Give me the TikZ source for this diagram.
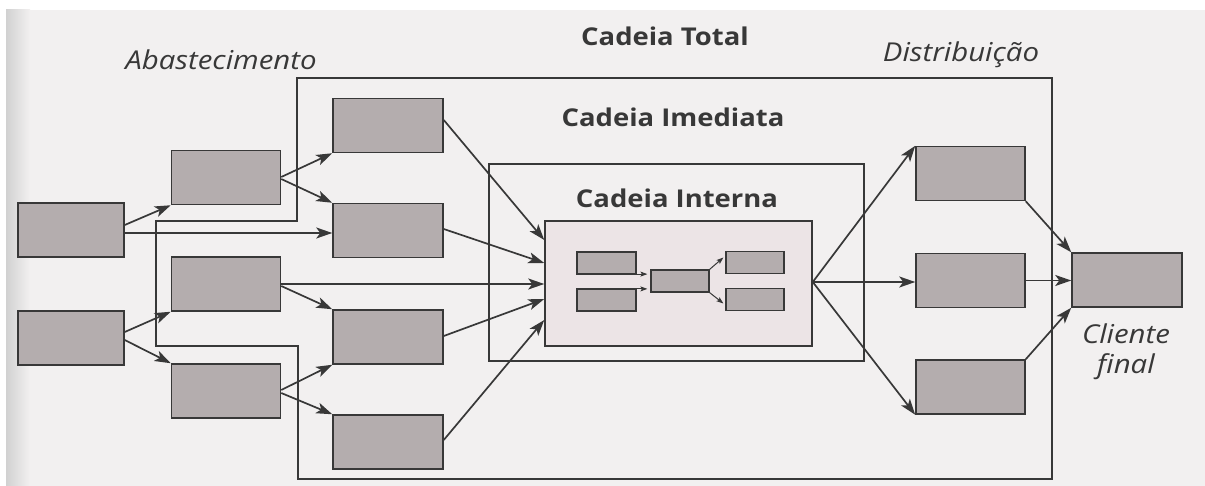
\documentclass[tikz,border=0pt]{standalone}
\usepackage{fontspec}
\setmainfont{Open Sans}
\usetikzlibrary{arrows.meta,calc}
\definecolor{paper}{HTML}{F2F0F0}
\definecolor{boxgray}{HTML}{B4ADAE}
\definecolor{pinkfill}{HTML}{ECE4E6}
\definecolor{ink}{HTML}{383838}
\newcommand\hsb[1]{\scalebox{1.12}[1]{#1}}
\newcommand\hsi[1]{\scalebox{1.13}[1]{#1}}
\begin{document}
\begin{tikzpicture}[x=1pt,y=-1pt,
  box/.style={draw=ink, fill=boxgray, line width=1.5pt, inner sep=0pt, minimum width=109pt, minimum height=54pt},
  sbox/.style={draw=ink, fill=boxgray, line width=1.2pt, inner sep=0pt, minimum width=58pt, minimum height=22pt},
  frame/.style={draw=ink, line width=1.5pt, inner sep=0pt},
  arr/.style={draw=ink, line width=1.7pt, -{Stealth[length=16pt,width=11pt,inset=4pt]}},
  sarr/.style={draw=ink, line width=1pt, -{Stealth[length=7pt,width=5pt,inset=1.5pt]}},
  title/.style={font=\bfseries\fontsize{24.5}{28}\selectfont, text=ink, inner sep=0pt},
  ital/.style={font=\itshape\fontsize{26}{30}\selectfont, text=ink, align=center, inner sep=0pt}]
\useasboundingbox (0,0) rectangle (1205,486);
\fill[white] (0,0) rectangle (1205,486);
\fill[paper] (6,10) rectangle (1205,486);
\shade[left color=black!18, right color=paper] (6,10) rectangle (30,486);

% Cadeia Total outline
\draw[ink, line width=1.5pt] (297,78) -- (1052,78) -- (1052,479) -- (298,479) -- (298,346) -- (156,346) -- (156,221) -- (297,221) -- cycle;

% Cadeia Imediata and Interna
\node[frame, minimum width=375pt, minimum height=197pt] (IM) at (676.5,262.5) {};
\node[frame, fill=pinkfill, minimum width=267pt, minimum height=125pt] (IN) at (678.5,283.5) {};

% boxes
\node[box, minimum width=106pt] (L1) at (71,230) {};
\node[box, minimum width=106pt] (L2) at (71,338) {};
\node[box] (A1) at (226,177.5) {};
\node[box] (A2) at (226,284) {};
\node[box] (A3) at (226,391) {};
\node[box, minimum width=110pt] (B1) at (388,125.5) {};
\node[box, minimum width=110pt] (B2) at (388,230.5) {};
\node[box, minimum width=110pt] (B3) at (388,337) {};
\node[box, minimum width=110pt] (B4) at (388,442) {};
\node[box] (D1) at (970.5,173.5) {};
\node[box] (D2) at (970.5,280.5) {};
\node[box] (D3) at (970.5,387) {};
\node[box, minimum width=110pt] (CL) at (1127,280) {};

% inner boxes
\node[sbox, minimum width=59pt] (i1) at (606.5,263) {};
\node[sbox, minimum width=59pt] (i2) at (606.5,300) {};
\node[sbox] (i3) at (680,281) {};
\node[sbox] (i4) at (755,262.5) {};
\node[sbox] (i5) at (755,299.5) {};

% arrows (supply side)
\draw[arr] ($(L1.east)+(0,-5)$) -- (A1.south west);
\draw[arr] ($(L1.east)+(0,3)$) -- ($(B2.west)+(0,2.5)$);
\draw[arr] ($(A1.east)+(0,-0.5)$) -- (B1.south west);
\draw[arr] ($(A1.east)+(0,1.5)$) -- (B2.north west);
\draw[arr] ($(L2.east)+(0,-6)$) -- (A2.south west);
\draw[arr] ($(L2.east)+(0,2)$) -- (A3.north west);
\draw[arr] (A2.east) -- (A2.east -| IN.west);
\draw[arr] ($(A2.east)+(0,2)$) -- (B3.north west);
\draw[arr] ($(A3.east)+(0,-1)$) -- (B3.south west);
\draw[arr] ($(A3.east)+(0,2)$) -- (B4.north west);
\draw[arr] ($(B1.east)+(0,-5.5)$) -- ($(IN.west)+(0,-43.5)$);
\draw[arr] ($(B2.east)+(0,-1.5)$) -- ($(IN.west)+(0,-20.5)$);
\draw[arr] ($(B3.east)+(0,-1)$) -- ($(IN.west)+(0,15.5)$);
\draw[arr] ($(B4.east)+(0,-2)$) -- ($(IN.west)+(0,36.5)$);

% arrows (distribution side)
\coordinate (hub) at ($(IN.east)+(0,-1.5)$);
\draw[arr] (hub) -- (D1.north west);
\draw[arr] (hub) -- (hub -| D2.west);
\draw[arr] (hub) -- (D3.south west);
\draw[arr] (D1.south east) -- (CL.north west);
\draw[arr] (D2.east) -- (D2.east -| CL.west);
\draw[arr] (D3.north east) -- (CL.south west);

% inner arrows
\draw[sarr] ($(i1.south east)+(0,-0.5)$) -- ($(i1.south east -| i3.west)+(-3,-0.5)$);
\draw[sarr] ($(i2.north east)+(0,0.5)$) -- ($(i2.north east -| i3.west)+(-3,0.5)$);
\draw[sarr] (i3.north east) -- ($(i4.west)+(-2,-5)$);
\draw[sarr] (i3.south east) -- ($(i5.west)+(-2,4)$);

% labels
\node[title] (tTotal) at (665,36) {\hsb{Cadeia Total}};
\node[ital] (tAbas) at (221,60) {\hsi{Abastecimento}};
\node[ital] (tDist) at (961,55) {\hsi{Distribuição}};
\node[title] (tImed) at (673,117) {\hsb{Cadeia Imediata}};
\node[title] (tInt) at (677,198) {\hsb{Cadeia Interna}};
\node[ital] (tCli) at (1126,352) {\hsi{Cliente}\\\hsi{final}};
\end{tikzpicture}
\end{document}
